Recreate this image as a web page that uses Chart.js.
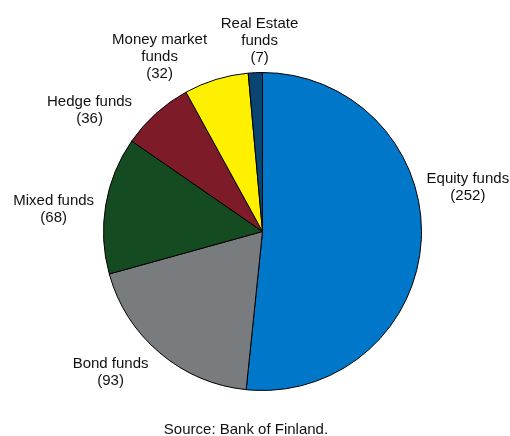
<!DOCTYPE html>
<html>
<head>
<meta charset="utf-8">
<script src="https://cdn.jsdelivr.net/npm/chart.js"></script>
<style>
    html, body { margin: 0; padding: 0; background: #fff; }
    #wrap { width: 510px; height: 436px; position: relative; }
</style>
</head>
<body>
<div id="wrap"><canvas id="fundChart"></canvas></div>
<script>
// Fund categories, number of funds
const categories = ['Equity funds', 'Bond funds', 'Mixed funds', 'Hedge funds', 'Money market funds', 'Real Estate funds'];
const fundCounts = [252, 93, 68, 36, 32, 7];
// Label text as shown, split into lines
const labelLines = [
    ['Equity funds'],
    ['Bond funds'],
    ['Mixed funds'],
    ['Hedge funds'],
    ['Money market', 'funds'],
    ['Real Estate', 'funds']
];
const sourceNote = 'Source: Bank of Finland.';

const sliceColors = ['#0077c8', '#787c7f', '#154b20', '#7d1c28', '#fff000', '#0a4470'];

// label placement: angle nudge (deg) from slice middle, distance beyond rim (px)
const labelNudge = [-15, 7, -3.6, -13, -13.5, 1.7];
const labelGap = [51, 48, 51, 52, 44, 32];

const FONT = '15px "Liberation Sans", Arial, sans-serif';
const LINE_H = 17;

// Draw outside labels and the source line
const outsideLabels = {
    id: 'outsideLabels',
    afterDraw(chart) {
        const ctx = chart.ctx;
        const arcs = chart.getDatasetMeta(0).data;
        ctx.save();
        ctx.font = FONT;
        ctx.fillStyle = '#111';
        ctx.textAlign = 'center';
        ctx.textBaseline = 'middle';

        arcs.forEach((arc, i) => {
            const p = arc.getProps(['x', 'y', 'startAngle', 'endAngle', 'outerRadius'], true);
            const mid = (p.startAngle + p.endAngle) / 2 + labelNudge[i] * Math.PI / 180;
            const r = p.outerRadius + labelGap[i];
            const lx = p.x + r * Math.cos(mid);
            const ly = p.y + r * Math.sin(mid);
            const lines = labelLines[i].concat('(' + fundCounts[i] + ')');
            const top = ly - (lines.length - 1) * LINE_H / 2;
            lines.forEach((txt, k) => ctx.fillText(txt, lx, top + k * LINE_H));
        });

        ctx.fillText(sourceNote, chart.width / 2 - 9, chart.height - 6);
        ctx.restore();
    }
};

new Chart(document.getElementById('fundChart'), {
    type: 'pie',
    data: {
        labels: categories,
        datasets: [{
            data: fundCounts,
            backgroundColor: sliceColors,
            borderColor: '#000',
            borderWidth: 1
        }]
    },
    options: {
        responsive: true,
        maintainAspectRatio: false,
        animation: false,
        layout: {
            padding: { left: 103, right: 88, top: 72, bottom: 45 }
        },
        plugins: {
            legend: { display: false },
            tooltip: { enabled: false }
        }
    },
    plugins: [outsideLabels]
});
</script>
</body>
</html>
